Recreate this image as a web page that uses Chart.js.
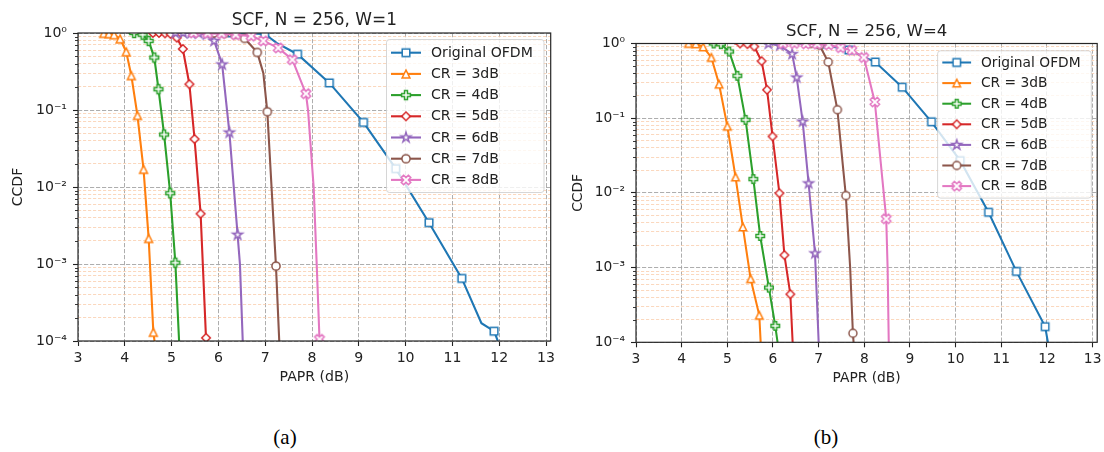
<!DOCTYPE html>
<html>
<head>
<meta charset="utf-8">
<script src="https://cdn.jsdelivr.net/npm/chart.js@4.4.1/dist/chart.umd.min.js"></script>
<style>
html,body{margin:0;padding:0;background:#fff;}
body{width:1104px;height:452px;position:relative;overflow:hidden;}
canvas{position:absolute;top:0;}
#c1{left:0;width:560px;height:400px;}
#c2{left:560px;width:544px;height:400px;}
.cap{position:absolute;top:424px;font-family:"Liberation Serif","Times New Roman",serif;font-size:21px;color:#000;transform:translateX(-50%);line-height:26px;}
</style>
</head>
<body>
<canvas id="c1" width="560" height="400"></canvas>
<canvas id="c2" width="544" height="400"></canvas>
<div class="cap" style="left:285px">(a)</div>
<div class="cap" style="left:826px">(b)</div>
<script>
// ---------------- data: [PAPR (dB), CCDF] ----------------
const LABELS = ['Original OFDM', 'CR = 3dB', 'CR = 4dB', 'CR = 5dB', 'CR = 6dB', 'CR = 7dB', 'CR = 8dB'];
const X_TICKS = [3, 4, 5, 6, 7, 8, 9, 10, 11, 12, 13];
const Y_DECADES = [1e-4, 1e-3, 1e-2, 1e-1, 1];
const Y_LABELS = ['10\u207B\u2074', '10\u207B\u00B3', '10\u207B\u00B2', '10\u207B\u00B9', '10\u2070'];

// (a) W = 1 : marker points, and extra curve points (no marker)
const w1_ofdm_mk = [[6.29,1.0],[6.99,0.97],[7.69,0.53],[8.37,0.225],[9.10,0.069],[9.79,0.0173],[10.50,0.00344],[11.20,0.00065],[11.89,0.000134]];
const w1_ofdm_ln = [[6.0,1.0],[7.25,0.74],[11.62,0.00017],[11.97,0.0001]];
const w1_cr3_mk = [[3.55,0.99],[3.66,0.98],[3.77,0.95],[3.90,0.84],[4.03,0.57],[4.14,0.28],[4.27,0.085],[4.40,0.017],[4.51,0.00215],[4.61,0.00013]];
const w1_cr3_ln = [[3.50,1.0],[4.635,0.0001]];
const w1_cr4_mk = [[4.20,1.0],[4.38,0.95],[4.51,0.79],[4.63,0.48],[4.72,0.186],[4.84,0.048],[4.97,0.0083],[5.08,0.00104]];
const w1_cr4_ln = [[4.08,1.0],[5.16,0.0001]];
const w1_cr5_mk = [[4.60,1.0],[4.73,1.0],[4.86,0.99],[4.98,0.97],[5.11,0.87],[5.24,0.62],[5.38,0.216],[5.49,0.042],[5.62,0.0045],[5.735,0.00011]];
const w1_cr5_ln = [[4.52,1.0],[5.745,0.0001]];
const w1_cr6_mk = [[5.08,1.0],[5.25,1.0],[5.42,1.0],[5.58,0.99],[5.75,0.96],[5.91,0.79],[6.08,0.39],[6.235,0.051],[6.41,0.0024]];
const w1_cr6_ln = [[5.0,1.0],[6.46,0.001],[6.52,0.0001]];
const w1_cr7_mk = [[5.90,1.0],[6.13,0.99],[6.35,0.96],[6.56,0.85],[6.83,0.56],[7.045,0.095],[7.23,0.00094]];
const w1_cr7_ln = [[5.80,1.0],[6.96,0.30],[7.30,0.0001]];
const w1_cr8_mk = [[5.47,1.0],[5.77,0.99],[6.07,0.98],[6.37,0.95],[6.70,0.91],[6.96,0.79],[7.28,0.64],[7.58,0.45],[7.87,0.163],[8.16,0.000105]];
const w1_cr8_ln = [[5.40,1.0],[7.915,0.1],[8.035,0.01],[8.10,0.001],[8.17,0.0001]];

// (b) W = 4
const w4_ofdm_mk = [[7.04,0.98],[7.66,0.82],[8.24,0.565],[8.83,0.26],[9.47,0.0895],[10.10,0.027],[10.72,0.0055],[11.33,0.00089],[11.96,0.000162]];
const w4_ofdm_ln = [[6.5,1.0],[12.02,0.0001]];
const w4_cr3_mk = [[4.15,1.0],[4.31,0.99],[4.47,0.9],[4.65,0.65],[4.82,0.285],[5.00,0.078],[5.18,0.0163],[5.34,0.0035],[5.51,0.00071],[5.70,0.00023]];
const w4_cr3_ln = [[4.10,1.0],[5.73,0.0001]];
const w4_cr4_mk = [[4.70,1.0],[4.86,0.98],[5.04,0.78],[5.22,0.37],[5.40,0.095],[5.57,0.0153],[5.72,0.00265],[5.91,0.00054],[6.05,0.000166]];
const w4_cr4_ln = [[4.62,1.0],[6.10,0.0001]];
const w4_cr5_mk = [[5.28,1.0],[5.44,0.98],[5.59,0.91],[5.75,0.58],[5.87,0.24],[5.99,0.057],[6.14,0.0099],[6.25,0.00147],[6.38,0.00044]];
const w4_cr5_ln = [[5.15,1.0],[6.43,0.0001]];
const w4_cr6_mk = [[5.90,0.99],[6.15,0.94],[6.42,0.72],[6.52,0.35],[6.65,0.09],[6.78,0.0134],[6.92,0.00155]];
const w4_cr6_ln = [[5.80,1.0],[7.00,0.0001]];
const w4_cr7_mk = [[6.83,1.0],[7.02,0.95],[7.21,0.565],[7.41,0.13],[7.595,0.0092],[7.75,0.000132]];
const w4_cr7_ln = [[6.70,1.0],[7.69,0.001],[7.765,0.0001]];
const w4_cr8_mk = [[6.22,1.0],[6.47,1.0],[6.72,0.99],[6.97,0.98],[7.22,0.96],[7.48,0.88],[7.73,0.81],[7.99,0.65],[8.23,0.165],[8.48,0.0045]];
const w4_cr8_ln = [[6.10,1.0],[8.51,0.001],[8.535,0.0001]];

// ---------------- styling ----------------
const COLORS = ['#1f77b4','#ff7f0e','#2ca02c','#d62728','#9467bd','#8c564b','#e377c2'];
const SHAPES = ['square','triangle','plus','diamond','star','circle','xfill'];
Chart.defaults.font.family = "'DejaVu Sans', sans-serif";
Chart.defaults.color = '#222';

function makeMarker(shape, color, k) {
  const c = document.createElement('canvas');
  c.width = 18; c.height = 18;
  const g = c.getContext('2d');
  g.translate(9, 9);
  g.beginPath();
  const poly = (pts, s) => { pts.forEach(([x, y], i) => i ? g.lineTo(x * s, y * s) : g.moveTo(x * s, y * s)); g.closePath(); };
  if (shape === 'square') { const h = 3.8 * k; g.rect(-h, -h, 2 * h, 2 * h); }
  else if (shape === 'triangle') { poly([[0,-1],[1,1],[-1,1]], 3.9 * k); }
  else if (shape === 'plus') { poly([[-1,-3],[-1,-1],[-3,-1],[-3,1],[-1,1],[-1,3],[1,3],[1,1],[3,1],[3,-1],[1,-1],[1,-3]], 4.4 * k / 3); }
  else if (shape === 'diamond') { poly([[0,-1],[1,0],[0,1],[-1,0]], 4.3 * k); }
  else if (shape === 'star') {
    const R = 5.2 * k, r = R * 0.382;
    for (let i = 0; i < 10; i++) {
      const a = -Math.PI / 2 + i * Math.PI / 5, rr = i % 2 ? r : R;
      const x = rr * Math.cos(a), y = rr * Math.sin(a);
      i ? g.lineTo(x, y) : g.moveTo(x, y);
    }
    g.closePath();
  }
  else if (shape === 'circle') { g.arc(0, 0, 4.1 * k, 0, Math.PI * 2); }
  else if (shape === 'xfill') { poly([[-1,-2],[0,-1],[1,-2],[2,-1],[1,0],[2,1],[1,2],[0,1],[-1,2],[-2,1],[-1,0],[-2,-1]], 2.4 * k); }
  g.fillStyle = '#fff'; g.fill();
  g.lineWidth = 1.5 * k; g.lineJoin = 'miter'; g.strokeStyle = color; g.stroke();
  return c;
}

function buildDatasets(series, markers, k) {
  const out = [];
  series.forEach(([mk, ln], i) => {
    const pts = mk.concat(ln).sort((a, b) => a[0] - b[0]).map(([x, y]) => ({x, y}));
    out.push({label: LABELS[i], data: pts, showLine: true, borderColor: COLORS[i], backgroundColor: COLORS[i],
      borderWidth: 2.1 * k, pointRadius: 0, pointHoverRadius: 0, tension: 0, clip: 0, order: 2 * (7 - i) + 1});
    out.push({label: LABELS[i] + ' markers', data: mk.map(([x, y]) => ({x, y})), showLine: false,
      pointStyle: markers[i], pointRadius: 5, pointHoverRadius: 5, clip: 0, order: 2 * (7 - i)});
  });
  return out;
}

function isDecade(v) { return Y_DECADES.some(d => Math.abs(d - v) < d * 1e-6); }

function makeChart(id, G, series) {
  const k = G.k;
  const markers = SHAPES.map((s, i) => makeMarker(s, COLORS[i], k));
  const fs = G.fs, tfs = G.tfs;
  const deco = {
    id: 'deco_' + id,
    afterDraw(chart) {
      const g = chart.ctx, a = chart.chartArea;
      g.save();
      // minor y ticks
      const ys = chart.scales.y;
      g.strokeStyle = '#222'; g.lineWidth = 0.9;
      ys.ticks.forEach(t => {
        if (!t.major) {
          const py = Math.round(ys.getPixelForValue(t.value)) + 0.5;
          g.beginPath(); g.moveTo(a.left - 3, py); g.lineTo(a.left, py); g.stroke();
        }
      });
      // frame
      g.strokeStyle = '#262626'; g.lineWidth = 1.2;
      g.strokeRect(a.left, a.top, a.right - a.left, a.bottom - a.top);
      // title
      g.fillStyle = '#222'; g.font = tfs + "px 'DejaVu Sans'";
      g.textAlign = 'center'; g.textBaseline = 'alphabetic';
      g.fillText(G.title, (a.left + a.right) / 2, G.titleY);
      // legend
      const L = G.legend;
      g.beginPath();
      if (g.roundRect) g.roundRect(L.x, L.y, L.w, L.h, 3); else g.rect(L.x, L.y, L.w, L.h);
      g.fillStyle = 'rgba(255,255,255,0.8)'; g.fill();
      g.strokeStyle = 'rgba(204,204,204,0.8)'; g.lineWidth = 1; g.stroke();
      g.font = fs + "px 'DejaVu Sans'"; g.textAlign = 'left'; g.textBaseline = 'middle';
      LABELS.forEach((lab, i) => {
        const y = L.y0 + i * L.dy;
        g.strokeStyle = COLORS[i]; g.lineWidth = 2.1 * k;
        g.beginPath(); g.moveTo(L.hx0, y); g.lineTo(L.hx1, y); g.stroke();
        const m = markers[i];
        g.drawImage(m, (L.hx0 + L.hx1) / 2 - m.width / 2, y - m.height / 2);
        g.fillStyle = '#222';
        g.fillText(lab, L.tx, y + 0.5);
      });
      g.restore();
    }
  };
  return new Chart(document.getElementById(id), {
    type: 'scatter',
    data: {datasets: buildDatasets(series, markers, k)},
    options: {
      responsive: false, animation: false, events: [], devicePixelRatio: 1,
      layout: {padding: {left: 0, top: G.top, right: G.W - G.right, bottom: 0}},
      plugins: {legend: {display: false}, tooltip: {enabled: false}, title: {display: false}},
      scales: {
        x: {
          type: 'linear', min: 3, max: 13.1,
          afterBuildTicks: s => { s.ticks = X_TICKS.map(v => ({value: v})); },
          afterFit: s => { s.height = G.H - G.bottom; s.paddingLeft = 0; s.paddingRight = 0; },
          ticks: {font: {size: fs}, color: '#222', padding: 4, autoSkip: false, maxRotation: 0, callback: v => String(v)},
          grid: {color: 'rgba(165,165,165,0.9)', lineWidth: 1, tickLength: 5, tickColor: '#222', tickWidth: 1.1},
          border: {display: false, dash: [4.2, 1.8]},
          title: {display: true, text: 'PAPR (dB)', font: {size: fs}, color: '#222', padding: {top: 0, bottom: G.xTitlePad}}
        },
        y: {
          type: 'logarithmic', min: 1e-4, max: 1,
          afterBuildTicks: s => {
            const t = [];
            Y_DECADES.forEach((d, i) => {
              t.push({value: d, major: true});
              if (i < Y_DECADES.length - 1) for (let m = 2; m <= 9; m++) t.push({value: m * d, major: false});
            });
            s.ticks = t;
          },
          afterFit: s => { s.width = G.left; s.paddingTop = 0; s.paddingBottom = 0; },
          ticks: {font: {size: fs}, color: '#222', padding: 6, autoSkip: false,
            callback: v => { const i = Y_DECADES.findIndex(d => Math.abs(d - v) < d * 1e-6); return i >= 0 ? Y_LABELS[i] : ''; }},
          grid: {
            color: c => (c.tick && isDecade(c.tick.value)) ? 'rgba(165,165,165,0.9)' : 'rgba(250,200,165,0.8)',
            lineWidth: c => (c.tick && isDecade(c.tick.value)) ? 1 : 0.9,
            tickLength: 5, tickWidth: 1.1,
            tickColor: c => (c.tick && isDecade(c.tick.value)) ? '#222' : 'rgba(0,0,0,0)'
          },
          border: {display: false, dash: c => (c.tick && isDecade(c.tick.value)) ? [4.2, 1.8] : [3.2, 1.8]},
          title: {display: true, text: 'CCDF', font: {size: fs}, color: '#222', padding: {top: G.yTitlePad, bottom: 0}}
        }
      }
    },
    plugins: [deco]
  });
}

makeChart('c1', {
  W: 560, H: 400, left: 78, right: 550.7, top: 33, bottom: 341, k: 1, fs: 14.1, tfs: 16.9,
  title: 'SCF, N = 256, W=1', titleY: 25, xTitlePad: 14.5, yTitlePad: 9.5,
  legend: {x: 386.5, y: 39.5, w: 157.5, h: 153, y0: 52.7, dy: 21.2, hx0: 391, hx1: 421, tx: 431}
}, [[w1_ofdm_mk, w1_ofdm_ln], [w1_cr3_mk, w1_cr3_ln], [w1_cr4_mk, w1_cr4_ln], [w1_cr5_mk, w1_cr5_ln],
    [w1_cr6_mk, w1_cr6_ln], [w1_cr7_mk, w1_cr7_ln], [w1_cr8_mk, w1_cr8_ln]]);

makeChart('c2', {
  W: 544, H: 400, left: 76, right: 537.2, top: 43.5, bottom: 342.3, k: 0.976, fs: 13.8, tfs: 16.5,
  title: 'SCF, N = 256, W=4', titleY: 36, xTitlePad: 13.2, yTitlePad: 10,
  legend: {x: 377.6, y: 50.8, w: 153.7, h: 147.3, y0: 62.5, dy: 20.6, hx0: 382.3, hx1: 411.1, tx: 420.9}
}, [[w4_ofdm_mk, w4_ofdm_ln], [w4_cr3_mk, w4_cr3_ln], [w4_cr4_mk, w4_cr4_ln], [w4_cr5_mk, w4_cr5_ln],
    [w4_cr6_mk, w4_cr6_ln], [w4_cr7_mk, w4_cr7_ln], [w4_cr8_mk, w4_cr8_ln]]);
</script>
</body>
</html>
